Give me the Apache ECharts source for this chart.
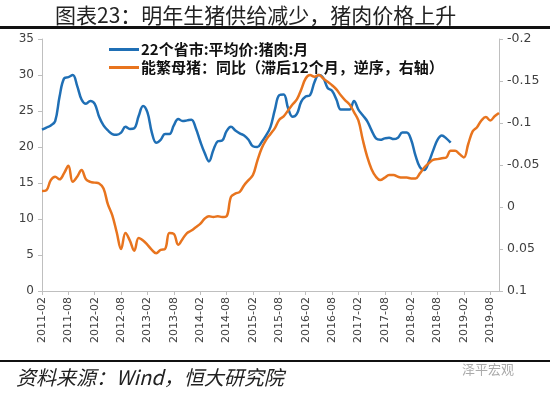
<!DOCTYPE html>
<html>
<head>
<meta charset="utf-8">
<script src="https://cdn.jsdelivr.net/npm/echarts@6/dist/echarts.min.js"></script>
<style>html,body{margin:0;padding:0;background:#fff;}#c{width:550px;height:395px;}</style>
</head>
<body>
<div id="c"></div>
<script>
const titleText = '图表23：明年生猪供给减少，猪肉价格上升';
const sourceText = '资料来源：Wind，恒大研究院';
const watermark = '泽平宏观';
const seriesNames = ['22个省市:平均价:猪肉:月', '能繁母猪：同比（滞后12个月，逆序，右轴）'];
const startYear = 2011, startMonth = 2, monthCount = 105;
const months = [];
for (let i = 0; i < monthCount; i++) {
  const m = startMonth - 1 + i;
  const y = startYear + Math.floor(m / 12);
  const mm = (m % 12) + 1;
  months.push(y + '-' + (mm < 10 ? '0' + mm : '' + mm));
}
const porkPrice = [
  22.4, 22.7, 23.0, 23.6, 27.0, 29.5, 29.7, 30.0, 28.5, 26.6, 26.0, 26.4,
  26.0, 24.2, 23.0, 22.3, 21.8, 21.7, 22.0, 22.8, 22.5, 22.6, 24.3, 25.7,
  24.8, 22.0, 20.6, 21.0, 21.8, 21.8, 23.0, 23.9, 23.6, 23.7, 23.8, 22.6,
  20.8, 19.2, 18.0, 19.6, 20.8, 20.9, 22.2, 22.8, 22.3, 21.9, 21.6, 21.0,
  20.1, 20.0, 20.7, 21.6, 22.8, 25.2, 27.2, 27.3, 25.4, 24.2, 24.6, 26.3,
  27.0, 27.2, 29.0, 30.0, 29.6, 28.2, 27.8, 26.6, 25.2, 25.2, 25.2, 26.4,
  25.2, 24.4, 23.6, 22.3, 21.2, 21.0, 21.2, 21.3, 21.1, 21.3, 22.0, 22.0,
  21.0, 18.8, 17.2, 16.8, 17.9, 19.5, 21.0, 21.6, 21.2, 20.6
];
const sowYoY = [
  -0.019, -0.020, -0.032, -0.036, -0.033, -0.040, -0.049, -0.030, -0.036, -0.044, -0.033, -0.030,
  -0.029, -0.028, -0.022, -0.003, 0.010, 0.030, 0.050, 0.031, 0.040, 0.052, 0.037, 0.040,
  0.045, 0.051, 0.055, 0.051, 0.050, 0.031, 0.032, 0.045, 0.038, 0.031, 0.028, 0.024,
  0.020, 0.014, 0.011, 0.012, 0.011, 0.012, 0.011, -0.012, -0.016, -0.018, -0.026, -0.032,
  -0.038, -0.055, -0.070, -0.080, -0.087, -0.094, -0.104, -0.108, -0.115, -0.122, -0.128, -0.140,
  -0.153, -0.157, -0.155, -0.157, -0.153, -0.149, -0.145, -0.140, -0.133, -0.127, -0.122, -0.113,
  -0.103, -0.080, -0.060, -0.045, -0.036, -0.032, -0.035, -0.038, -0.038, -0.036, -0.035, -0.035,
  -0.034, -0.034, -0.040, -0.047, -0.052, -0.056, -0.057, -0.058, -0.059, -0.067, -0.067, -0.063,
  -0.059, -0.075, -0.090, -0.095, -0.103, -0.107, -0.103, -0.108, -0.112
];
const blue = '#1f6fb5', orange = '#e8741e';
const axisGray = '#bfbfbf', labelGray = '#404040';
const cjk = '"Noto Sans CJK SC", "Liberation Serif", serif';

const chart = echarts.init(document.getElementById('c'), null, {renderer: 'canvas'});
chart.setOption({
  animation: false,
  backgroundColor: '#fff',
  title: {
    text: titleText, left: 50, top: 0,
    textStyle: {fontFamily: cjk, fontSize: 21, fontWeight: 'normal', color: '#222'}
  },
  graphic: [
    {type: 'rect', shape: {x: 0, y: 26, width: 550, height: 3}, style: {fill: '#111'}},
    {type: 'rect', shape: {x: 0, y: 360, width: 550, height: 2}, style: {fill: '#111'}},
    {type: 'text', left: 16, top: 367, style: {text: sourceText, font: 'italic 20px ' + cjk, fill: '#222'}},
    {type: 'text', left: 462, top: 363, style: {text: watermark, font: '13px ' + cjk, fill: '#aaa'}}
  ],
  legend: {
    orient: 'vertical', left: 104, top: 37, itemGap: 3,
    itemWidth: 30, itemHeight: 3, icon: 'rect',
    textStyle: {fontFamily: cjk, fontSize: 15, fontWeight: 'bold', color: '#111', padding: [0, 0, 0, -3]},
    data: seriesNames
  },
  grid: {left: 42, right: 51, top: 39, bottom: 104, containLabel: false},
  xAxis: {
    type: 'category', data: months, boundaryGap: false,
    axisLine: {lineStyle: {color: axisGray, width: 1}},
    axisTick: {interval: 5, length: 4, lineStyle: {color: axisGray}},
    axisLabel: {interval: 5, rotate: 90, fontFamily: '"DejaVu Sans", sans-serif', fontSize: 11, color: labelGray, margin: 6},
    splitLine: {show: false}
  },
  yAxis: [
    {
      type: 'value', min: 0, max: 35, interval: 5,
      axisLine: {show: true, lineStyle: {color: axisGray}},
      axisTick: {show: true, length: 4, lineStyle: {color: axisGray}},
      axisLabel: {fontFamily: '"DejaVu Sans", sans-serif', fontSize: 12, color: labelGray, margin: 8},
      splitLine: {show: false}
    },
    {
      type: 'value', min: -0.2, max: 0.1, interval: 0.05, inverse: true, position: 'right',
      axisLine: {show: true, lineStyle: {color: axisGray}},
      axisTick: {show: true, length: 4, lineStyle: {color: axisGray}},
      axisLabel: {fontFamily: '"DejaVu Sans", sans-serif', fontSize: 12.5, color: labelGray, margin: 8,
        formatter: v => String(Math.round(v * 100) / 100)},
      splitLine: {show: false}
    }
  ],
  series: [
    {name: seriesNames[0], type: 'line', yAxisIndex: 0, data: porkPrice, smooth: 0.4,
     showSymbol: false, lineStyle: {color: blue, width: 2.5}, itemStyle: {color: blue}},
    {name: seriesNames[1], type: 'line', yAxisIndex: 1, data: sowYoY, smooth: 0.4,
     showSymbol: false, lineStyle: {color: orange, width: 2.5}, itemStyle: {color: orange}}
  ]
});
</script>
</body>
</html>
